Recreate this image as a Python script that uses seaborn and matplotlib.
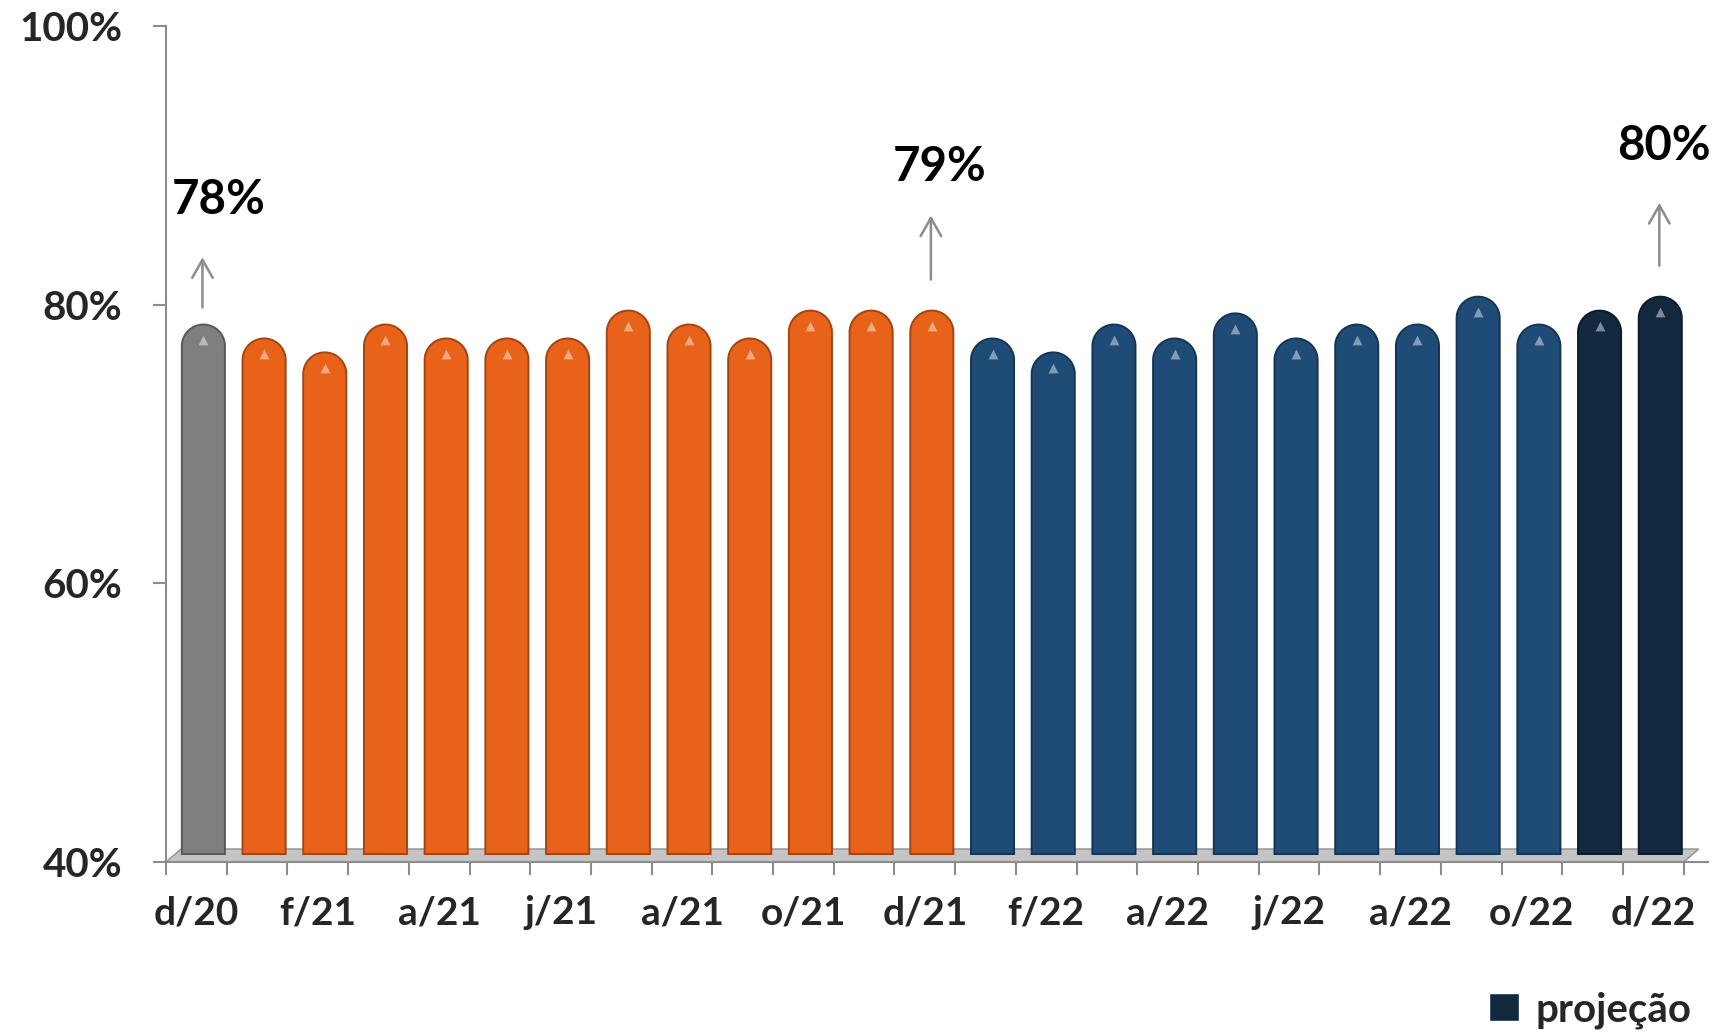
import numpy as np
import pandas as pd
import seaborn as sns
import matplotlib.pyplot as plt
import matplotlib.transforms as mtransforms
from matplotlib.patches import PathPatch, Polygon, Patch
from matplotlib.path import Path

# dados (taxa de ocupacao mensal, %)
meses = ['dez/20', 'jan/21', 'fev/21', 'mar/21', 'abr/21', 'mai/21', 'jun/21',
         'jul/21', 'ago/21', 'set/21', 'out/21', 'nov/21', 'dez/21',
         'jan/22', 'fev/22', 'mar/22', 'abr/22', 'mai/22', 'jun/22',
         'jul/22', 'ago/22', 'set/22', 'out/22', 'nov/22', 'dez/22']
ocupacao = [78, 77, 76, 78, 77, 77, 77, 79, 78, 77, 79, 79, 79,
            77, 76, 78, 77, 78.8, 77, 78, 78, 80, 78, 79, 80]
grupo = ['2020'] + ['2021'] * 12 + ['2022'] * 10 + ['projeção'] * 2
rotulos_x = ['d/20', 'f/21', 'a/21', 'j/21', 'a/21', 'o/21', 'd/21',
             'f/22', 'a/22', 'j/22', 'a/22', 'o/22', 'd/22']
y_ticks = [40, 60, 80, 100]
destaque_idx = [0, 12, 24]
destaque_txt = ['78%', '79%', '80%']

# layout das anotacoes (offsets em % acima da barra)
seta_ini = [1.6, 2.6, 2.6]
seta_fim = [5.6, 7.6, 7.5]
texto_y = [9.5, 10.9, 11.4]
texto_dx = [0.36, 0.24, 0.18]

cores = {'2020': '#7f7f7f', '2021': '#e8621a', '2022': '#1f4c77', 'projeção': '#12283f'}
cinza = '#8c8c8c'

df = pd.DataFrame({'mes': meses, 'valor': ocupacao, 'grupo': grupo})

sns.set_theme(style='white')
plt.rcParams['font.family'] = ['Lato', 'DejaVu Sans']

fig = plt.figure(figsize=(17.17, 10.34), dpi=100)
ax = fig.add_axes([0.0967, 0.1663, 0.8980, 0.8086])

sns.barplot(data=df, x='mes', y='valor', hue='grupo', order=meses,
            hue_order=list(cores.keys()), palette=cores, dodge=False, saturation=1,
            width=0.71, errorbar=None, legend=False, ax=ax)

ax.set_xlim(-0.5, 24.9)
ax.set_ylim(40, 100)

# px por unidade
px_x = ax.get_position().width * fig.get_figwidth() * fig.dpi / 25.4
px_y = ax.get_position().height * fig.get_figheight() * fig.dpi / 60
aspect = px_x / px_y

# deslocamento "3D"
desloc = mtransforms.ScaledTranslation(7 / 100, 8 / 100, fig.dpi_scale_trans)


def cilindro(x0, w, y0, y1):
    """contorno de barra com topo arredondado"""
    rx = w / 2
    ry = rx * aspect
    t = np.linspace(np.pi, 0, 40)
    xs = np.concatenate([[x0], x0 + rx + rx * np.cos(t), [x0 + w, x0]])
    ys = np.concatenate([[y0], (y1 - ry) + ry * np.sin(t), [y0, y0]])
    return Path(np.column_stack([xs, ys]), closed=True)


# piso cinza
n = len(meses)
prof = 13 / px_y
piso = Polygon([(-0.5, 40), (-0.5 + 15 / px_x, 40 + prof), (n - 0.5 + 15 / px_x, 40 + prof), (n - 0.5, 40)],
               closed=True, fc='#c4c4c4', ec='#9a9a9a', lw=1.2, zorder=1, clip_on=False)

# substitui barras por cilindros arredondados
for p in list(ax.patches):
    x0, w, h = p.get_x(), p.get_width(), p.get_height()
    fc = np.array(p.get_facecolor()[:3])
    p.remove()
    barra = PathPatch(cilindro(x0, w, 40, h), fc=fc, ec=fc * 0.7, lw=1.4,
                      transform=ax.transData + desloc, zorder=3)
    ax.add_patch(barra)
    brilho = fc + (1 - fc) * 0.45
    ax.scatter([x0 + w / 2], [h - 1.1], marker='^', s=50, color=brilho,
               transform=ax.transData + desloc, zorder=4, linewidths=0)

ax.add_patch(piso)

# anotacoes
for k, i in enumerate(destaque_idx):
    v = ocupacao[i]
    ax.annotate('', xy=(i + 0.1, v + seta_fim[k]), xytext=(i + 0.1, v + seta_ini[k]),
                arrowprops=dict(arrowstyle='->,head_length=0.65,head_width=0.37',
                                color=cinza, lw=1.8, mutation_scale=20))
    ax.text(i + texto_dx[k], v + texto_y[k], destaque_txt[k], ha='center', va='center',
            fontsize=34, fontweight='bold', color='black')

# eixos
ax.set_xlabel('')
ax.set_ylabel('')
ticks_maj = np.arange(-0.5, n, 1)
ax.set_xticks(ticks_maj, labels=[''] * len(ticks_maj))
ax.set_xticks(np.arange(0, n, 2), labels=rotulos_x, minor=True,
              fontsize=28, fontweight='bold')
ax.set_yticks(y_ticks, labels=[f'{t}%' for t in y_ticks], fontsize=29, fontweight='bold')
ax.tick_params(axis='x', which='major', bottom=True, length=9.5, width=1.5, color=cinza, direction='out')
ax.tick_params(axis='x', which='minor', bottom=True, length=0, pad=24)
ax.tick_params(axis='y', left=True, length=9.5, width=1.5, color=cinza, direction='out', pad=22)

for s in ['top', 'right']:
    ax.spines[s].set_visible(False)
for s in ['left', 'bottom']:
    ax.spines[s].set_color(cinza)
    ax.spines[s].set_linewidth(1.5)
ax.grid(False)

fig.legend(handles=[Patch(facecolor=cores['projeção'])], labels=['projeção'],
           loc='lower right', bbox_to_anchor=(1.006, -0.03), frameon=False,
           prop={'weight': 'bold', 'size': 29}, handlelength=0.75, handleheight=0.7,
           handletextpad=0.4)

fig.savefig('out.png', dpi=100)
